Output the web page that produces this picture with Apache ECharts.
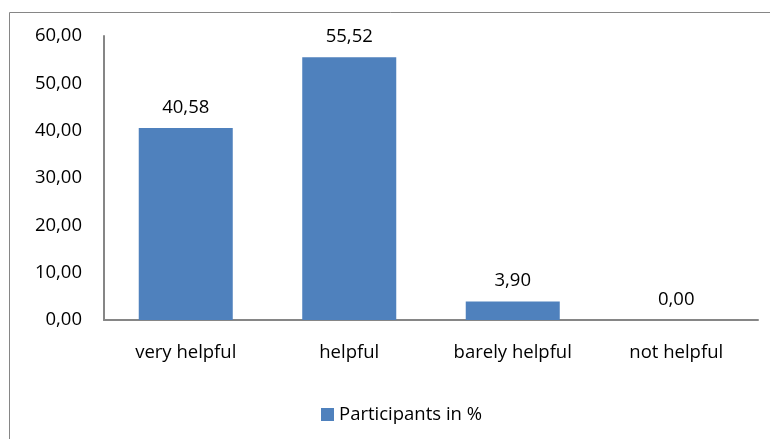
<!DOCTYPE html>
<html>
<head>
<meta charset="utf-8">
<script src="https://cdn.jsdelivr.net/npm/echarts@6/dist/echarts.min.js"></script>
<style>
  html, body { margin: 0; padding: 0; background: #fff; }
  #chart { width: 770px; height: 439px; }
</style>
</head>
<body>
<div id="chart"></div>
<script>
// Survey answers: how helpful participants found it
const categories = ['very helpful', 'helpful', 'barely helpful', 'not helpful'];
const participantsPct = [40.58, 55.52, 3.90, 0.00];
const seriesName = 'Participants in %';
const yMin = 0, yMax = 60, yStep = 10;

const fmt = v => Number(v).toFixed(2).replace('.', ',');
const FONT = 'Open Sans';
const FS = 18.5;

const chart = echarts.init(document.getElementById('chart'));
chart.setOption({
  animation: false,
  backgroundColor: '#fff',
  graphic: [{
    type: 'rect',
    shape: { x: 9.5, y: 12.5, width: 820, height: 520 },
    style: { fill: 'none', stroke: '#868686', lineWidth: 1 },
    silent: true
  }],
  grid: { left: 104, right: 12, top: 36, bottom: 119, containLabel: false },
  legend: {
    data: [seriesName],
    left: 316, top: 400,
    itemWidth: 13, itemHeight: 13, itemGap: 5,
    icon: 'rect',
    textStyle: { fontFamily: FONT, fontSize: FS, color: '#000' }
  },
  xAxis: {
    type: 'category',
    data: categories,
    axisLine: { lineStyle: { color: '#868686', width: 2 } },
    axisTick: { show: false },
    axisLabel: { fontFamily: FONT, fontSize: FS, color: '#000', margin: 23 }
  },
  yAxis: {
    type: 'value',
    min: yMin, max: yMax, interval: yStep,
    axisLine: { show: true, lineStyle: { color: '#868686', width: 2 } },
    axisTick: { show: false },
    splitLine: { show: false },
    axisLabel: { fontFamily: FONT, fontSize: FS, color: '#000', margin: 22, formatter: fmt }
  },
  series: [{
    name: seriesName,
    type: 'bar',
    data: participantsPct,
    barWidth: '57.5%',
    itemStyle: { color: '#4f81bd' },
    label: {
      show: true, position: 'top', distance: 11,
      fontFamily: FONT, fontSize: FS, color: '#000',
      formatter: p => fmt(p.value)
    }
  }]
});
</script>
</body>
</html>
